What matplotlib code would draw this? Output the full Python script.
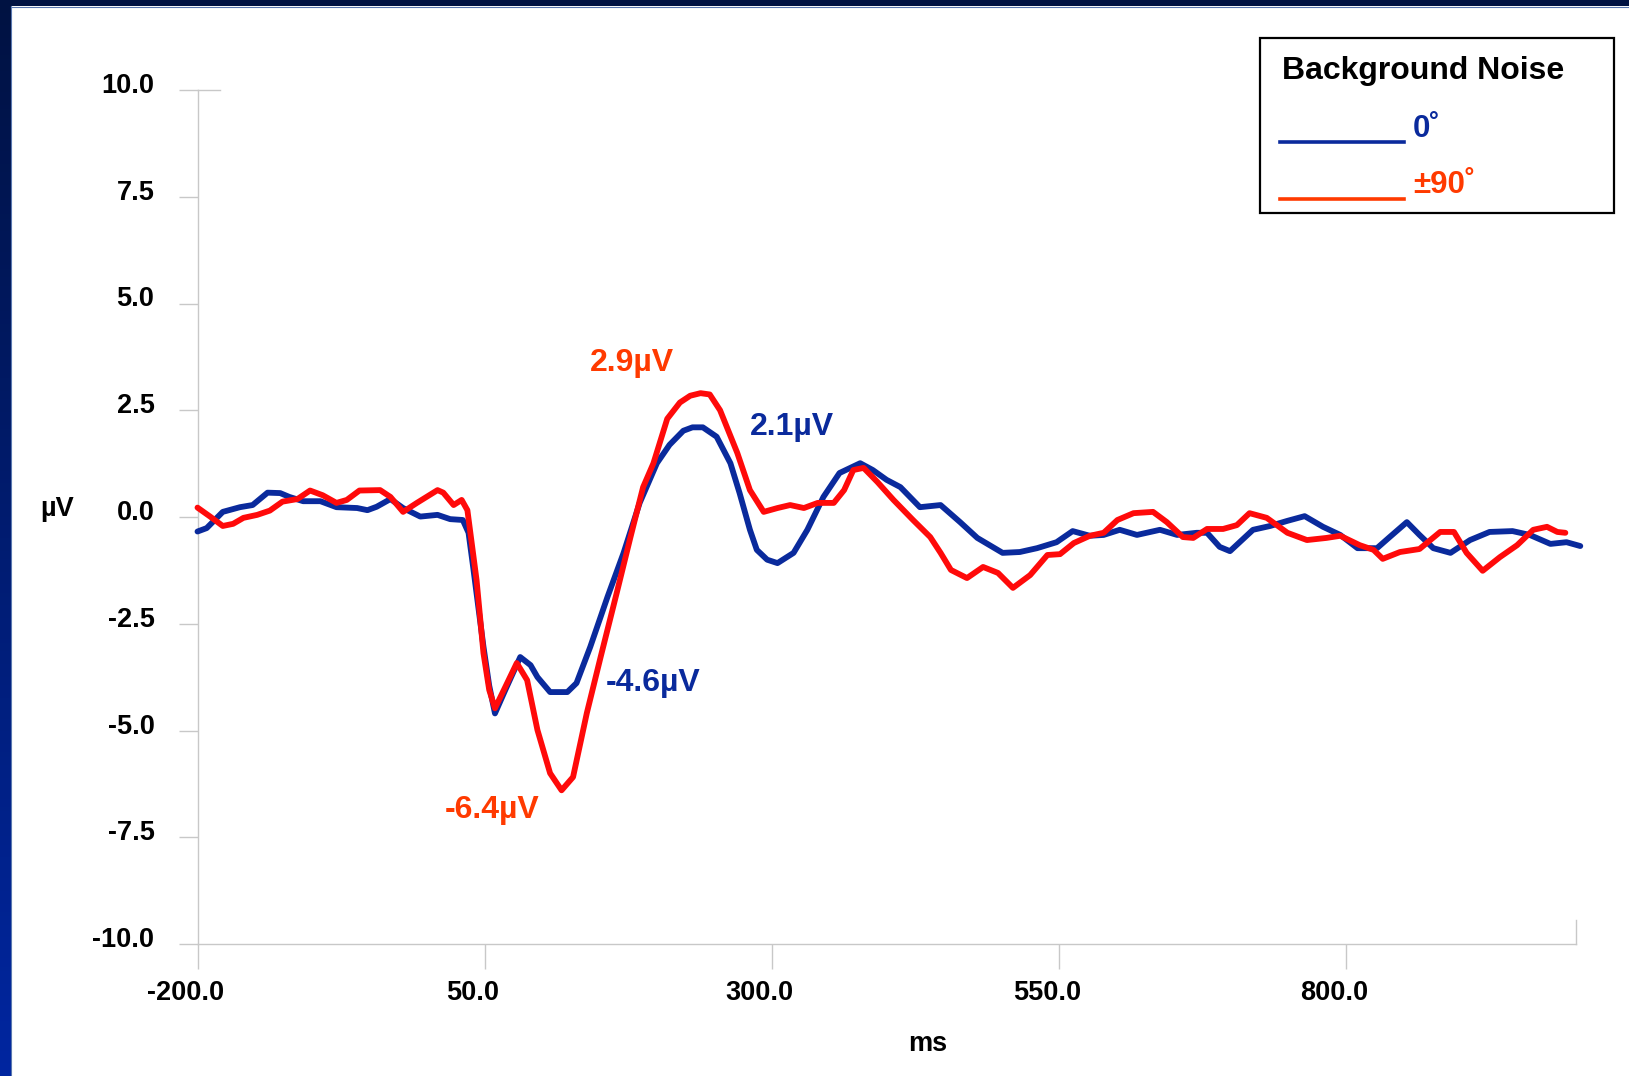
import matplotlib
matplotlib.use("Agg")
import matplotlib.pyplot as plt
import numpy as np
from matplotlib.lines import Line2D
from matplotlib.patches import Rectangle
from matplotlib.transforms import ScaledTranslation
from matplotlib.ticker import FixedLocator, FormatStrFormatter
from matplotlib.colors import LinearSegmentedColormap

plt.rcParams['font.family'] = ['Liberation Sans', 'DejaVu Sans']
plt.rcParams['font.weight'] = 'bold'

# ERP waveforms (ms, microvolts)
blue_ms = [-200, -192, -178, -163, -152, -139, -128, -120, -108, -93, -79, -61, -52, -44, -32,
           -21, -6, 9, 20, 31, 36, 40, 49, 54, 59, 68, 81, 90, 96, 107, 122, 130, 142, 157,
           171, 185, 200, 211, 223, 231, 240, 252, 264, 272, 281, 287, 296, 305, 319, 331,
           345, 359, 377, 388, 400, 412, 429, 447, 464, 479, 501, 516, 531, 548, 562, 577,
           589, 603, 618, 638, 653, 670, 679, 690, 699, 719, 734, 749, 764, 780, 795, 810,
           827, 838, 853, 864, 876, 891, 908, 925, 945, 960, 978, 992, 1004]
blue_uv = [-0.34, -0.26, 0.12, 0.23, 0.28, 0.57, 0.56, 0.47, 0.37, 0.37, 0.23, 0.21, 0.16,
           0.24, 0.42, 0.21, 0.01, 0.05, -0.05, -0.07, -0.37, -1.17, -3.04, -3.95, -4.6,
           -4.05, -3.28, -3.47, -3.75, -4.10, -4.10, -3.89, -3.04, -1.87, -0.84, 0.33, 1.26,
           1.69, 2.02, 2.1, 2.1, 1.88, 1.26, 0.56, -0.30, -0.77, -1.0, -1.08, -0.84, -0.30,
           0.47, 1.03, 1.26, 1.10, 0.87, 0.70, 0.23, 0.28, -0.12, -0.49, -0.84, -0.82, -0.73,
           -0.59, -0.33, -0.44, -0.42, -0.30, -0.42, -0.30, -0.42, -0.37, -0.37, -0.70, -0.80,
           -0.30, -0.21, -0.09, 0.02, -0.23, -0.42, -0.73, -0.73, -0.47, -0.12, -0.42, -0.73,
           -0.84, -0.54, -0.35, -0.33, -0.42, -0.63, -0.59, -0.68]

red_ms = [-200, -189, -178, -169, -160, -148, -137, -126, -113, -102, -91, -79, -70, -59, -41,
          -32, -21, -9, 9, 14, 23, 30, 35, 43, 49, 54, 59, 68, 78, 87, 96, 107, 117, 127,
          139, 151, 165, 177, 188, 197, 209, 220, 229, 238, 246, 255, 270, 281, 293, 305,
          316, 328, 340, 354, 363, 371, 380, 392, 406, 423, 438, 447, 456, 470, 484, 497,
          510, 525, 540, 551, 563, 577, 589, 601, 615, 632, 644, 658, 667, 679, 693, 705,
          716, 731, 749, 766, 783, 795, 812, 824, 832, 847, 864, 882, 894, 905, 919, 934,
          949, 963, 975, 984, 991]
red_uv = [0.22, 0.01, -0.21, -0.16, -0.02, 0.05, 0.15, 0.36, 0.42, 0.62, 0.51, 0.33, 0.40,
          0.62, 0.63, 0.47, 0.12, 0.33, 0.63, 0.57, 0.28, 0.40, 0.16, -1.48, -3.19, -4.05,
          -4.48, -3.98, -3.42, -3.82, -4.99, -6.00, -6.4, -6.09, -4.59, -3.28, -1.78, -0.47,
          0.70, 1.26, 2.3, 2.68, 2.84, 2.9, 2.87, 2.5, 1.5, 0.63, 0.12, 0.21, 0.28, 0.21,
          0.33, 0.33, 0.63, 1.10, 1.15, 0.82, 0.40, -0.07, -0.47, -0.84, -1.24, -1.43, -1.17,
          -1.31, -1.66, -1.36, -0.89, -0.87, -0.61, -0.44, -0.37, -0.07, 0.09, 0.12, -0.12,
          -0.47, -0.49, -0.28, -0.28, -0.19, 0.09, -0.02, -0.37, -0.54, -0.49, -0.44, -0.66,
          -0.77, -0.98, -0.82, -0.75, -0.35, -0.35, -0.84, -1.26, -0.94, -0.66, -0.30, -0.23,
          -0.35, -0.37]

x_ticks = [-200.0, 50.0, 300.0, 550.0, 800.0]
y_ticks = [-10.0, -7.5, -5.0, -2.5, 0.0, 2.5, 5.0, 7.5, 10.0]

legend_title = "Background Noise"
series_names = ["0˚", "±90˚"]

BLUE = "#0a2a9c"
RED = "#ff0a0a"
RED_TEXT = "#ff3a00"
AXIS_GREY = "#c8c8c8"

W, H = 1629, 1076
fig = plt.figure(figsize=(W / 100, H / 100), dpi=100)
fig.patch.set_facecolor("white")

# dark frame along the left and top edges
grad = np.linspace(0, 1, 256).reshape(-1, 1)
frame_cmap = LinearSegmentedColormap.from_list("frame", ["#0026a0", "#001242"])
axl = fig.add_axes([0, 0, 11 / W, 1])
axl.imshow(grad, aspect="auto", cmap=frame_cmap, origin="lower", extent=[0, 1, 0, 1])
axl.set_axis_off()
axt = fig.add_axes([0, 1 - 6 / H, 1, 6 / H])
axt.add_patch(Rectangle((0, 0), 1, 1, color="#001242"))
axt.set_xlim(0, 1); axt.set_ylim(0, 1)
axt.set_axis_off()
fig.add_artist(Line2D([11 / W, 11 / W], [0, 1 - 6 / H], color="#5a78b0", lw=0.8))
fig.add_artist(Line2D([11 / W, 1], [1 - 6.5 / H, 1 - 6.5 / H], color="#5a78b0", lw=0.8))

left, right, bottom, top = 197.5, 1575.7, 944, 90
ax = fig.add_axes([left / W, 1 - bottom / H, (right - left) / W, (bottom - top) / H])
ax.set_xlim(-200, 1000)
ax.set_ylim(-10, 10)
ax.set_facecolor("none")

ax.plot(blue_ms, blue_uv, color=BLUE, lw=4.2, solid_joinstyle="round",
        solid_capstyle="round", clip_on=False, zorder=3)
ax.plot(red_ms, red_uv, color=RED, lw=4.2, solid_joinstyle="round",
        solid_capstyle="round", clip_on=False, zorder=4)

for s in ["top", "right"]:
    ax.spines[s].set_visible(False)
for s in ["left", "bottom"]:
    ax.spines[s].set_color(AXIS_GREY)
    ax.spines[s].set_linewidth(1.0)

ax.xaxis.set_major_locator(FixedLocator(x_ticks))
ax.yaxis.set_major_locator(FixedLocator(y_ticks))
ax.xaxis.set_major_formatter(FormatStrFormatter("%.1f"))
ax.yaxis.set_major_formatter(FormatStrFormatter("%.1f"))
ax.tick_params(axis="x", length=18, width=1, color=AXIS_GREY, pad=8, labelsize=19.5)
ax.tick_params(axis="y", length=14, width=1, color=AXIS_GREY, pad=17, labelsize=19.5)
for lab in ax.get_xticklabels():
    lab.set_fontweight("bold")
    lab.set_transform(lab.get_transform() + ScaledTranslation(-0.12, 0, fig.dpi_scale_trans))
for lab in ax.get_yticklabels():
    lab.set_fontweight("bold")
    lab.set_transform(lab.get_transform() + ScaledTranslation(0, 0.07, fig.dpi_scale_trans))

# short cap at the top of the value axis and at the right end of the time axis
ax.plot([0, 22 / (right - left)], [1, 1], transform=ax.transAxes, color=AXIS_GREY,
        lw=1, clip_on=False)
ax.plot([1, 1], [0, 24 / (bottom - top)], transform=ax.transAxes, color=AXIS_GREY,
        lw=1, clip_on=False)

fig.text(57 / W, 1 - 509 / H, "µV", fontsize=19.5, fontweight="bold", ha="center", va="center")
fig.text(928 / W, 1 - 1044 / H, "ms", fontsize=19.5, fontweight="bold", ha="center", va="center")

# peak annotations
ax.annotate("2.9µV", xy=(632 / W, 1 - 363 / H), xycoords="figure fraction", color=RED_TEXT,
            fontsize=23, fontweight="bold", ha="center", va="center")
ax.annotate("2.1µV", xy=(792 / W, 1 - 427 / H), xycoords="figure fraction", color=BLUE,
            fontsize=23, fontweight="bold", ha="center", va="center")
ax.annotate("-4.6µV", xy=(653 / W, 1 - 683 / H), xycoords="figure fraction", color=BLUE,
            fontsize=23, fontweight="bold", ha="center", va="center")
ax.annotate("-6.4µV", xy=(492 / W, 1 - 810 / H), xycoords="figure fraction", color=RED_TEXT,
            fontsize=23, fontweight="bold", ha="center", va="center")

# legend box
fig.add_artist(Rectangle((1260 / W, 1 - 213 / H), (1614 - 1260) / W, (213 - 38) / H,
                         transform=fig.transFigure, facecolor="white", edgecolor="black",
                         lw=1.6, zorder=5))
fig.text(1282 / W, 1 - 79 / H, legend_title, fontsize=23, fontweight="bold",
         ha="left", va="baseline", zorder=6)
fig.add_artist(Line2D([1280 / W, 1404 / W], [1 - 142 / H, 1 - 142 / H], color=BLUE,
                      lw=2.6, zorder=6))
fig.add_artist(Line2D([1280 / W, 1404 / W], [1 - 199 / H, 1 - 199 / H], color=RED_TEXT,
                      lw=2.6, zorder=6))
fig.text(1413 / W, 1 - 137 / H, series_names[0], fontsize=22.5, fontweight="bold", color=BLUE,
         ha="left", va="baseline", zorder=6)
fig.text(1413 / W, 1 - 193 / H, series_names[1], fontsize=22.5, fontweight="bold",
         color=RED_TEXT, ha="left", va="baseline", zorder=6)

fig.savefig("out.png", dpi=100)
